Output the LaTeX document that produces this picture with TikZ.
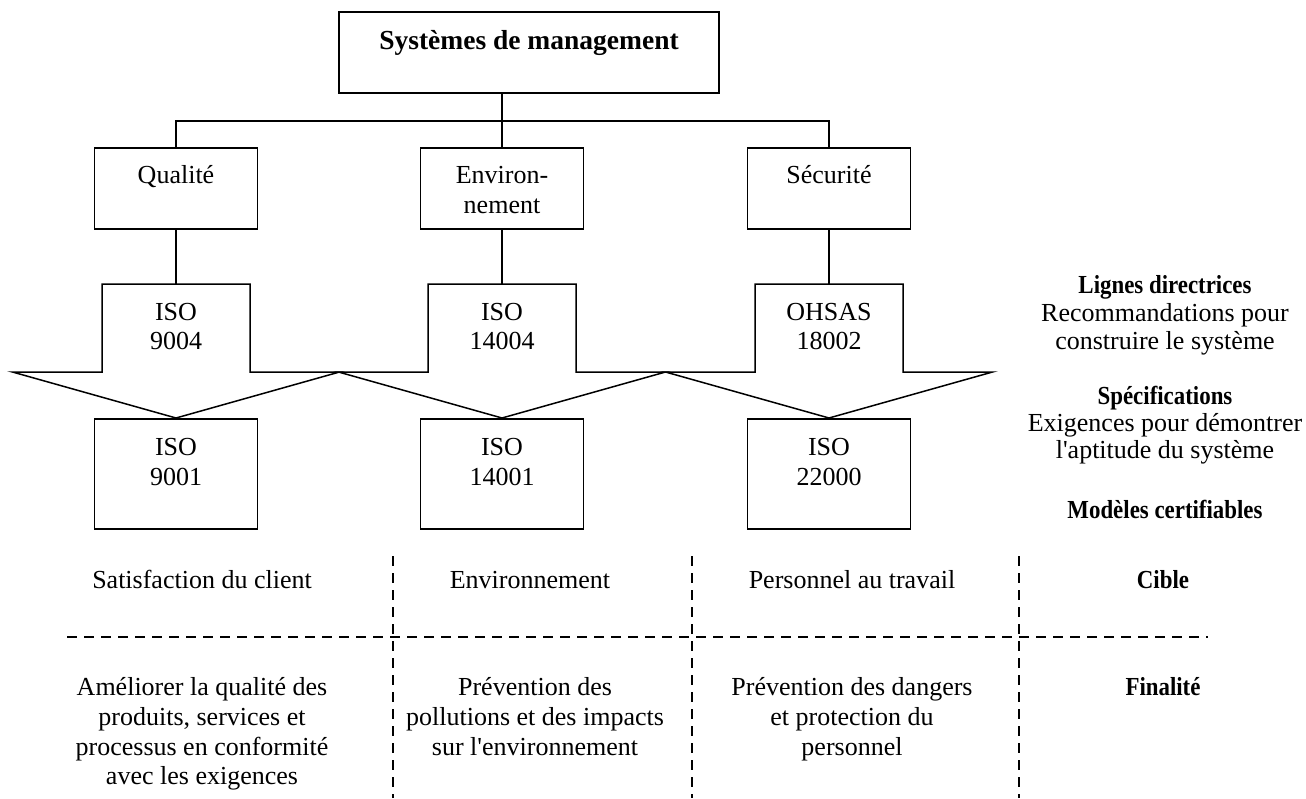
\documentclass[tikz,border=0pt]{standalone}
\usepackage{fontspec}
% families without TeX ligatures keep the straight apostrophe
\newfontfamily\diagfont{Liberation Serif}
\newfontfamily\legfont{Liberation Serif}[FakeStretch=0.88]
\begin{document}
\begin{tikzpicture}[x=1pt,y=-1pt,
  txt/.style={anchor=base, inner sep=0pt, font=\diagfont\fontsize{26}{28}\selectfont},
  hd/.style={txt, font=\legfont\fontsize{26}{28}\selectfont\bfseries},
  title/.style={txt, font=\diagfont\fontsize{27.5}{28}\selectfont\bfseries},
  frame/.style={draw, line width=1.5pt, rectangle, inner sep=0pt},
  upbox/.style={frame, minimum width=163pt, minimum height=81pt},
  lowbox/.style={frame, minimum width=163pt, minimum height=110pt},
  link/.style={line width=1.5pt},
  bigarrow/.style={draw, line width=1.5pt, line join=miter},
  sep/.style={line width=1.8pt, dash pattern=on 10pt off 7pt}]

\useasboundingbox (0,0) rectangle (1306,798);

% ---- hierarchy ----
\node[frame, minimum width=380pt, minimum height=81pt] (top) at (529,52.5) {};
\node[title] (toptxt) at (529,49) {Systèmes de management};

\node[upbox] (qual) at (176,188.5) {};
\node[upbox] (env)  at (502,188.5) {};
\node[upbox] (sec)  at (829,188.5) {};
\node[txt] (qualtxt) at (176,183) {Qualité};
\node[txt] (envtxta) at (502,183) {Environ-};
\node[txt] (envtxtb) at (502,213) {nement};
\node[txt] (sectxt)  at (829,183) {Sécurité};

\coordinate (bus) at (502,121);
\draw[link] (env.north |- top.south) -- (env.north);
\draw[link] (qual.north) |- (bus) -| (sec.north);

% ---- guideline arrows ----
\foreach \c/\n in {176/a1, 502/a2, 829/a3}{
  \coordinate (\n top) at (\c,284);
  \coordinate (\n tip) at (\c,418);
  \draw[bigarrow] (\c-74,284) -- (\c+74,284) -- (\c+74,372) -- (\c+163.5,372)
     -- (\n tip) -- (\c-163.5,372) -- (\c-74,372) -- cycle;
}
\draw[link] (qual.south) -- (a1top);
\draw[link] (env.south) -- (a2top);
\draw[link] (sec.south) -- (a3top);

\node[txt] (g1a) at (176,320) {ISO};
\node[txt] (g1b) at (176,349) {9004};
\node[txt] (g2a) at (502,320) {ISO};
\node[txt] (g2b) at (502,349) {14004};
\node[txt] (g3a) at (829,320) {OHSAS};
\node[txt] (g3b) at (829,349) {18002};

% ---- certifiable standards ----
\node[lowbox, anchor=north] (s1) at (a1tip) {};
\node[lowbox, anchor=north] (s2) at (a2tip) {};
\node[lowbox, anchor=north] (s3) at (a3tip) {};
\node[txt] (s1a) at (176,455) {ISO};
\node[txt] (s1b) at (176,485) {9001};
\node[txt] (s2a) at (502,455) {ISO};
\node[txt] (s2b) at (502,485) {14001};
\node[txt] (s3a) at (829,455) {ISO};
\node[txt] (s3b) at (829,485) {22000};

% ---- legend on the right ----
\node[hd]  (l1) at (1165,293) {Lignes directrices};
\node[txt] (l2) at (1165,321) {Recommandations pour};
\node[txt] (l3) at (1165,349) {construire le système};
\node[hd]  (l4) at (1165,404) {Spécifications};
\node[txt] (l5) at (1165,431) {Exigences pour démontrer};
\node[txt] (l6) at (1165,458) {l'aptitude du système};
\node[hd]  (l7) at (1165,518) {Modèles certifiables};

% ---- table of targets and purposes ----
\draw[sep] (67,637) -- (1208,637);
\foreach \x in {393,692,1019}{
  \draw[sep] (\x,556) -- (\x,798);
}

\node[txt] (c1) at (202,588) {Satisfaction du client};
\node[txt] (c2) at (530,588) {Environnement};
\node[txt] (c3) at (852,588) {Personnel au travail};
\node[hd]  (c4) at (1163,588) {Cible};

\node[txt] (f1a) at (202,695) {Améliorer la qualité des};
\node[txt] (f1b) at (202,725) {produits, services et};
\node[txt] (f1c) at (202,755) {processus en conformité};
\node[txt] (f1d) at (202,784) {avec les exigences};

\node[txt] (f2a) at (535,695) {Prévention des};
\node[txt] (f2b) at (535,725) {pollutions et des impacts};
\node[txt] (f2c) at (535,755) {sur l'environnement};

\node[txt] (f3a) at (852,695) {Prévention des dangers};
\node[txt] (f3b) at (852,725) {et protection du};
\node[txt] (f3c) at (852,755) {personnel};

\node[hd]  (f4) at (1163,695) {Finalité};
\end{tikzpicture}
\end{document}
